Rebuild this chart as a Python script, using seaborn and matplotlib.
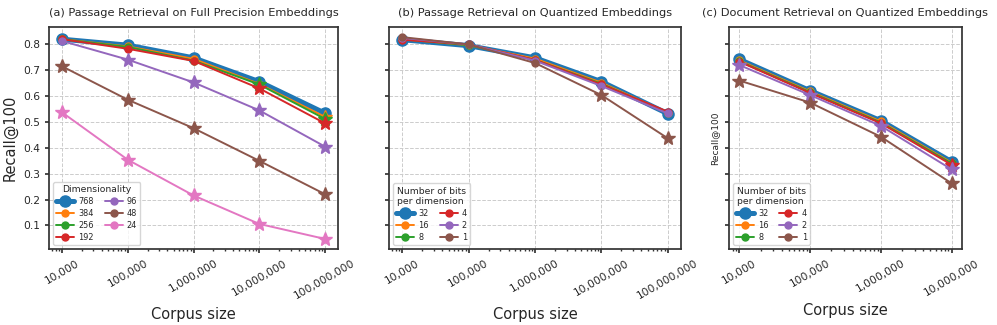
import matplotlib
matplotlib.use("Agg")
import matplotlib.pyplot as plt
from matplotlib.lines import Line2D
import seaborn as sns
import numpy as np

sns.set_theme(style="ticks")
plt.rcParams['font.family'] = ['DejaVu Sans']

# ---------------- data ----------------
corpus_ab = [1e4, 1e5, 1e6, 1e7, 1e8]
corpus_c = [1e4, 1e5, 1e6, 1e7]
tick_labels_ab = ["10,000", "100,000", "1,000,000", "10,000,000", "100,000,000"]
tick_labels_c = ["10,000", "100,000", "1,000,000", "10,000,000"]

dims = ["768", "384", "256", "192", "96", "48", "24"]
recall_a = {
    "768": [0.820, 0.797, 0.748, 0.656, 0.534],
    "384": [0.820, 0.792, 0.744, 0.647, 0.520],
    "256": [0.820, 0.790, 0.737, 0.645, 0.512],
    "192": [0.820, 0.783, 0.736, 0.630, 0.495],
    "96":  [0.813, 0.741, 0.653, 0.545, 0.405],
    "48":  [0.715, 0.586, 0.476, 0.350, 0.221],
    "24":  [0.537, 0.354, 0.216, 0.106, 0.048],
}
sig_a = {
    "768": [0, 0, 0, 0, 0],
    "384": [0, 0, 0, 0, 1],
    "256": [0, 0, 0, 1, 1],
    "192": [0, 0, 0, 1, 1],
    "96":  [0, 1, 1, 1, 1],
    "48":  [1, 1, 1, 1, 1],
    "24":  [1, 1, 1, 1, 1],
}

bits = ["32", "16", "8", "4", "2", "1"]
recall_b = {
    "32": [0.818, 0.795, 0.748, 0.656, 0.532],
    "16": [0.820, 0.797, 0.745, 0.652, 0.535],
    "8":  [0.820, 0.797, 0.740, 0.648, 0.535],
    "4":  [0.818, 0.800, 0.740, 0.645, 0.540],
    "2":  [0.825, 0.800, 0.737, 0.639, 0.533],
    "1":  [0.828, 0.800, 0.728, 0.604, 0.437],
}
sig_b = {
    "32": [0, 0, 0, 0, 0],
    "16": [0, 0, 0, 0, 0],
    "8":  [0, 0, 0, 0, 0],
    "4":  [0, 0, 0, 0, 0],
    "2":  [0, 0, 0, 0, 0],
    "1":  [0, 0, 0, 1, 1],
}
recall_c = {
    "32": [0.742, 0.621, 0.505, 0.347],
    "16": [0.738, 0.618, 0.502, 0.343],
    "8":  [0.735, 0.615, 0.498, 0.340],
    "4":  [0.733, 0.612, 0.495, 0.335],
    "2":  [0.720, 0.604, 0.485, 0.317],
    "1":  [0.660, 0.575, 0.443, 0.263],
}
sig_c = {
    "32": [0, 0, 0, 0],
    "16": [0, 0, 0, 0],
    "8":  [0, 0, 0, 0],
    "4":  [0, 0, 0, 1],
    "2":  [1, 1, 1, 1],
    "1":  [1, 1, 1, 1],
}

titles = ["(a) Passage Retrieval on Full Precision Embeddings",
          "(b) Passage Retrieval on Quantized Embeddings",
          "(c) Document Retrieval on Quantized Embeddings"]

palette = sns.color_palette("tab10")

fig = plt.figure(figsize=(9.97, 3.25), dpi=100)
ax_a = fig.add_axes([0.0491, 0.2338, 0.2900, 0.683])
ax_b = fig.add_axes([0.3901, 0.2338, 0.2930, 0.683], sharey=ax_a)
ax_c = fig.add_axes([0.7310, 0.2338, 0.2340, 0.683], sharey=ax_a)


def draw(ax, x, keys, recall, sig, legend_title, ticklabels, title):
    handles = []
    for i, k in enumerate(keys):
        c = palette[i]
        big = (i == 0)
        lw = 3.6 if big else 1.4
        sns.lineplot(x=x, y=recall[k], ax=ax, color=c, linewidth=lw,
                     legend=False, zorder=2 + i)
        for xv, yv, s in zip(x, recall[k], sig[k]):
            if s:
                ax.plot([xv], [yv], marker='*', color=c, markersize=10.5,
                        linestyle='none', zorder=2 + i)
            else:
                ax.plot([xv], [yv], marker='o', color=c,
                        markersize=8 if big else 5,
                        linestyle='none', zorder=2 + i)
        handles.append(Line2D([0], [0], color=c, lw=lw, marker='o',
                              markersize=8 if big else 5, label=k))
    ax.set_xscale('log')
    ax.set_xticks(x)
    ax.set_xticklabels(ticklabels, rotation=30, fontsize=7.7)
    ax.grid(True, which='major', linestyle='--', color='#cccccc', linewidth=0.7)
    ax.set_title(title, fontsize=8.2, pad=8)
    ax.set_xlabel("Corpus size", fontsize=10.5)
    for sp in ax.spines.values():
        sp.set_color('#333333')
    ax.tick_params(axis='both', labelsize=7.7, length=3, color='#333333')
    ax.tick_params(axis='x', which='minor', length=1.5, color='#333333')
    leg = ax.legend(handles=handles, title=legend_title, ncol=2, loc='lower left',
                    fontsize=5.9, title_fontsize=6.7, handlelength=2.2,
                    columnspacing=1.3, labelspacing=0.35, borderpad=0.4,
                    handletextpad=0.5, framealpha=0.8)
    return leg


draw(ax_a, corpus_ab, dims, recall_a, sig_a, "Dimensionality", tick_labels_ab, titles[0])
draw(ax_b, corpus_ab, bits, recall_b, sig_b, "Number of bits\nper dimension", tick_labels_ab, titles[1])
draw(ax_c, corpus_c, bits, recall_c, sig_c, "Number of bits\nper dimension", tick_labels_c, titles[2])

ax_a.set_ylabel("Recall@100", fontsize=10.5)
ax_b.set_ylabel("")
ax_c.set_ylabel("Recall@100", fontsize=6.5)
plt.setp(ax_b.get_yticklabels(), visible=False)
plt.setp(ax_c.get_yticklabels(), visible=False)
ax_a.set_yticks([0.1, 0.2, 0.3, 0.4, 0.5, 0.6, 0.7, 0.8])

fig.savefig("out.png", dpi=100)
